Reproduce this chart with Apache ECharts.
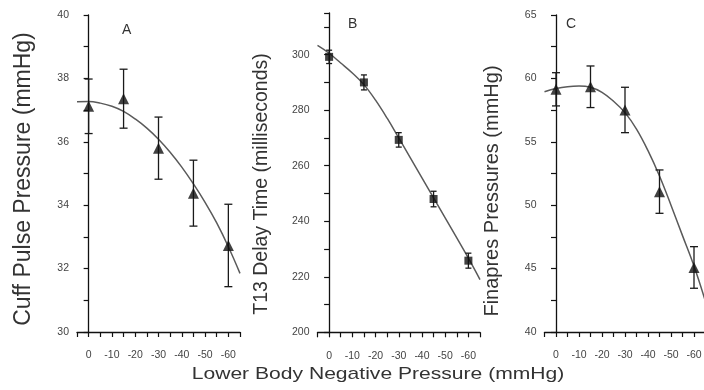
<!DOCTYPE html>
<html>
<head>
<meta charset="utf-8">
<script src="https://cdn.jsdelivr.net/npm/echarts@6/dist/echarts.min.js"></script>
<style>html,body{margin:0;padding:0;background:#fff}#c{width:704px;height:390px}</style>
</head>
<body>
<div id="c"></div>
<script>
// ---- data ----
const pressures = [0, -15, -30, -45, -60];
const cuffMean = [37.12, 37.36, 35.80, 34.38, 32.73];
const cuffErr  = [0.86, 0.93, 0.98, 1.04, 1.30];
const t13Mean  = [299.2, 290.0, 269.3, 248.0, 225.8];
const t13Err   = [2.4, 2.7, 2.6, 2.8, 2.7];
const finMean  = [59.14, 59.34, 57.51, 51.07, 45.09];
const finErr   = [1.31, 1.64, 1.79, 1.71, 1.64];

const fitPressures = [5, 0, -5, -10, -15, -20, -25, -30, -35, -40, -45, -50, -55, -60, -65];
const cuffFit = [37.26, 37.27, 37.22, 37.12, 36.96, 36.72, 36.43, 36.08, 35.67, 35.20, 34.67, 34.09, 33.44, 32.69, 31.85];
const t13Fit  = [303.3, 300.5, 297.0, 293.4, 289.2, 283.6, 277.1, 270.0, 262.8, 255.6, 248.4, 241.2, 234.0, 226.7, 219.0];
const finFit  = [58.95, 59.2, 59.35, 59.4, 59.3, 58.9, 58.2, 57.3, 56.0, 54.3, 52.3, 50.0, 47.6, 45.2, 42.4];

const xTickLabels = [0, -10, -20, -30, -40, -50, -60];
const yTickLabelsA = [30, 32, 34, 36, 38, 40];
const yTickLabelsB = [200, 220, 240, 260, 280, 300];
const yTickLabelsC = [40, 45, 50, 55, 60, 65];

const panelTitles = ['A', 'B', 'C'];
const yTitles = ['Cuff Pulse Pressure (mmHg)', 'T13 Delay Time (milliseconds)', 'Finapres Pressures (mmHg)'];
const xTitle = 'Lower Body Negative Pressure (mmHg)';

// ---- chart ----
const FONT = '"Liberation Sans", Arial, sans-serif';
const chart = echarts.init(document.getElementById('c'), null, {renderer: 'canvas'});

function pairs(xs, ys) { return xs.map((x, i) => [x, ys[i]]); }
function errData(means, errs) { return pressures.map((p, i) => [p, means[i] - errs[i], means[i] + errs[i]]); }

function errSeries(idx, means, errs, capW) {
  return {
    type: 'custom', xAxisIndex: idx, yAxisIndex: idx, z: 3,
    data: errData(means, errs),
    renderItem: function (params, api) {
      const x = api.value(0);
      const top = api.coord([x, api.value(2)]);
      const bot = api.coord([x, api.value(1)]);
      const st = {stroke: '#1a1a1a', lineWidth: 1.3};
      return {type: 'group', children: [
        {type: 'line', shape: {x1: top[0], y1: top[1], x2: bot[0], y2: bot[1]}, style: st},
        {type: 'line', shape: {x1: top[0] - capW, y1: top[1], x2: top[0] + capW, y2: top[1]}, style: st},
        {type: 'line', shape: {x1: bot[0] - capW, y1: bot[1], x2: bot[0] + capW, y2: bot[1]}, style: st}
      ]};
    }
  };
}

function xAxis(idx) {
  return {
    type: 'value', gridIndex: idx, inverse: true, min: -65, max: 5, interval: 5,
    axisLine: {lineStyle: {color: '#111', width: 1.3}},
    axisTick: {show: true, length: 5, lineStyle: {color: '#111', width: 1.2}},
    splitLine: {show: false},
    axisLabel: {
      margin: 18, fontSize: 10.5, color: '#444', fontFamily: FONT,
      formatter: v => xTickLabels.indexOf(v) >= 0 ? String(v) : ''
    }
  };
}

function yAxis(idx, min, max, interval, labels) {
  return {
    type: 'value', gridIndex: idx, min: min, max: max, interval: interval,
    axisLine: {show: true, lineStyle: {color: '#111', width: 1.3}},
    axisTick: {show: true, length: 5, lineStyle: {color: '#111', width: 1.2}},
    splitLine: {show: false},
    axisLabel: {
      margin: 8, fontSize: 10.5, color: '#444', fontFamily: FONT,
      formatter: v => labels.indexOf(v) >= 0 ? String(v) : ''
    }
  };
}

function fitSeries(idx, ys) {
  return {
    type: 'line', xAxisIndex: idx, yAxisIndex: idx, z: 2,
    data: pairs(fitPressures, ys), smooth: 0.4, showSymbol: false, symbol: 'none',
    lineStyle: {color: '#5a5a5a', width: 1.5}, silent: true
  };
}

function markSeries(idx, means, symbol, size) {
  return {
    type: 'scatter', xAxisIndex: idx, yAxisIndex: idx, z: 4,
    data: pairs(pressures, means), symbol: symbol, symbolSize: size,
    itemStyle: {color: '#111'}
  };
}

function vTitle(text, x, y, size) {
  return {type: 'text', x: x, y: y, rotation: Math.PI / 2,
    style: {text: text, font: size + 'px ' + FONT, fill: '#333', align: 'center', verticalAlign: 'middle'}};
}

const option = {
  animation: false,
  backgroundColor: '#fff',
  grid: [
    {left: 77, top: 15, width: 163, height: 317, outerBoundsMode: 'none'},
    {left: 317.5, top: 13, width: 162.5, height: 319.3, outerBoundsMode: 'none'},
    {left: 544.5, top: 15, width: 161, height: 317, outerBoundsMode: 'none'}
  ],
  xAxis: [xAxis(0), xAxis(1), xAxis(2)],
  yAxis: [
    yAxis(0, 30, 40, 1, yTickLabelsA),
    yAxis(1, 200, 315, 10, yTickLabelsB),
    yAxis(2, 40, 65, 2.5, yTickLabelsC)
  ],
  graphic: [
    {type: 'text', left: 122, top: 23, style: {text: panelTitles[0], font: '14px ' + FONT, fill: '#333'}},
    {type: 'text', left: 348, top: 17, style: {text: panelTitles[1], font: '14px ' + FONT, fill: '#333'}},
    {type: 'text', left: 566, top: 17, style: {text: panelTitles[2], font: '14px ' + FONT, fill: '#333'}},
    vTitle(yTitles[0], 24, 179, 23),
    vTitle(yTitles[1], 262, 184, 19.5),
    vTitle(yTitles[2], 492, 191, 20),
    {type: 'text', x: 378, y: 374, scaleX: 1.24,
      style: {text: xTitle, font: '17px ' + FONT, fill: '#333', align: 'center', verticalAlign: 'middle'}}
  ],
  series: [
    fitSeries(0, cuffFit), errSeries(0, cuffMean, cuffErr, 4), markSeries(0, cuffMean, 'triangle', 11),
    fitSeries(1, t13Fit), errSeries(1, t13Mean, t13Err, 3), markSeries(1, t13Mean, 'rect', 8),
    fitSeries(2, finFit), errSeries(2, finMean, finErr, 4), markSeries(2, finMean, 'triangle', 11)
  ]
};
chart.setOption(option);
</script>
</body>
</html>
